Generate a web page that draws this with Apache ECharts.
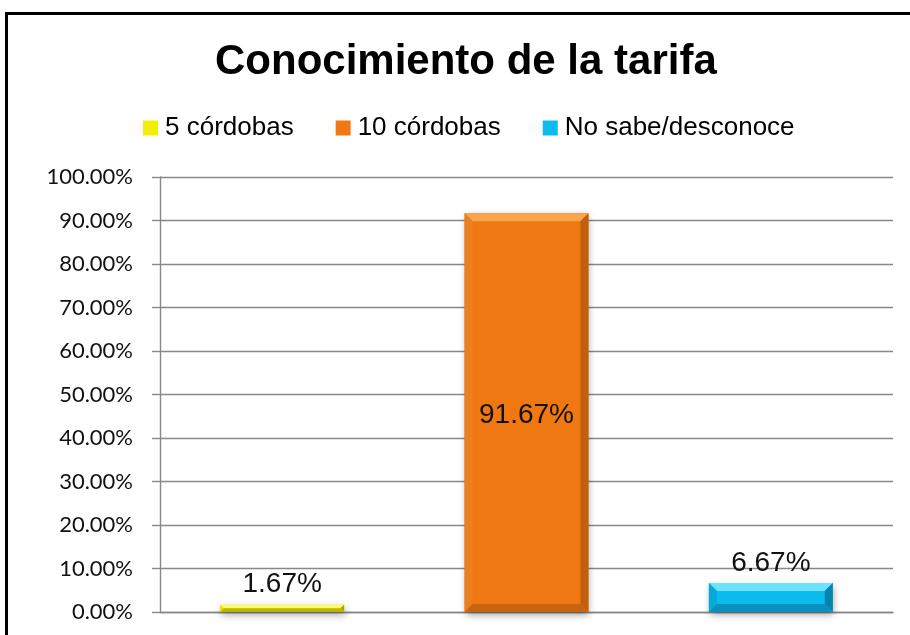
<!DOCTYPE html>
<html>
<head>
<meta charset="utf-8">
<title>Conocimiento de la tarifa</title>
<script src="https://cdn.jsdelivr.net/npm/echarts@6/dist/echarts.min.js"></script>
<style>
  html, body { margin: 0; padding: 0; background: #fff; }
  #chart { width: 910px; height: 635px; }
</style>
</head>
<body>
<div id="chart"></div>
<script>
// Chart data
const categories = ['5 córdobas', '10 córdobas', 'No sabe/desconoce'];
const values = [1.67, 91.67, 6.67];
const yTicks = { min: 0, max: 100, interval: 10 };

// Bevel palette per category: face, top edge, left edge, right edge, bottom edge
const palettes = [
  { face: '#f2f000', top: '#fbfb70', left: '#e4e200', right: '#a8a600', bottom: '#b8b600' },
  { face: '#f07812', top: '#f9a54c', left: '#ec7f22', right: '#c0600e', bottom: '#c8640f' },
  { face: '#0cbcee', top: '#6fe2ff', left: '#08a8da', right: '#0783b0', bottom: '#0990bf' }
];

const fmtPct = v => v.toFixed(2) + '%';

function renderBar(params, api) {
  const cat = api.value(0);
  const val = api.value(1);
  const base = api.coord([cat, 0]);
  const topPt = api.coord([cat, val]);
  const bw = api.size([1, 0])[0] * 0.507;
  const x = base[0] - bw / 2;
  const y = topPt[1];
  const h = base[1] - topPt[1];
  const b = Math.min(8, h / 2, bw / 2);
  const p = palettes[cat];
  const inside = h > 60;
  return {
    type: 'group',
    children: [
      {
        type: 'rect',
        shape: { x: x, y: y, width: bw, height: h },
        style: {
          fill: p.face,
          shadowBlur: 7,
          shadowColor: 'rgba(0,0,0,0.35)',
          shadowOffsetX: 1,
          shadowOffsetY: 3
        }
      },
      { type: 'polygon', shape: { points: [[x, y], [x + bw, y], [x + bw - b, y + b], [x + b, y + b]] }, style: { fill: p.top } },
      { type: 'polygon', shape: { points: [[x, y], [x + b, y + b], [x + b, y + h - b], [x, y + h]] }, style: { fill: p.left } },
      { type: 'polygon', shape: { points: [[x + bw, y], [x + bw, y + h], [x + bw - b, y + h - b], [x + bw - b, y + b]] }, style: { fill: p.right } },
      { type: 'polygon', shape: { points: [[x, y + h], [x + b, y + h - b], [x + bw - b, y + h - b], [x + bw, y + h]] }, style: { fill: p.bottom } },
      {
        type: 'text',
        x: base[0],
        y: inside ? y + h / 2 + 3 : y - 6,
        style: {
          text: fmtPct(val),
          fill: '#111',
          font: '28px "Liberation Sans", Arial, sans-serif',
          align: 'center',
          verticalAlign: inside ? 'middle' : 'bottom'
        }
      }
    ]
  };
}

const chart = echarts.init(document.getElementById('chart'), null, { renderer: 'canvas' });

const series = categories.map((name, i) => ({
  type: 'custom',
  name: name,
  renderItem: renderBar,
  itemStyle: { color: palettes[i].face },
  encode: { x: 0, y: 1 },
  data: [[i, values[i]]],
  z: 3
}));

chart.setOption({
  backgroundColor: '#fff',
  animation: false,
  title: {
    text: 'Conocimiento de la tarifa',
    left: 215,
    top: 41,
    padding: 0,
    textStyle: {
      fontFamily: '"Liberation Sans", Arial, sans-serif',
      fontSize: 42,
      fontWeight: 'bold',
      color: '#000'
    }
  },
  legend: {
    data: categories,
    left: 143,
    top: 115,
    padding: 0,
    itemWidth: 15,
    itemHeight: 15,
    itemGap: 42,
    icon: 'rect',
    textStyle: {
      fontFamily: '"Liberation Sans", Arial, sans-serif',
      fontSize: 26,
      color: '#000',
      padding: [0, 0, 0, 2]
    }
  },
  grid: { left: 160, top: 177, right: 17, bottom: 23 },
  xAxis: {
    type: 'category',
    data: categories,
    axisLine: { show: true, lineStyle: { color: '#888', width: 1.4 } },
    axisTick: { show: false },
    axisLabel: { show: false },
    splitLine: { show: false }
  },
  yAxis: {
    type: 'value',
    min: yTicks.min,
    max: yTicks.max,
    interval: yTicks.interval,
    axisLine: { show: true, lineStyle: { color: '#888', width: 1.4 } },
    axisTick: { show: true, length: 8, lineStyle: { color: '#888', width: 1.4 } },
    axisLabel: {
      margin: 27,
      formatter: v => fmtPct(v),
      fontFamily: 'Lato, "Open Sans", sans-serif',
      fontSize: 22,
      color: '#111'
    },
    splitLine: { show: true, lineStyle: { color: '#888', width: 1.4 } }
  },
  graphic: [
    {
      type: 'rect',
      shape: { x: 6.5, y: 13.5, width: 1000, height: 1000 },
      style: { fill: 'none', stroke: '#000', lineWidth: 3 },
      silent: true,
      z: 100
    }
  ],
  series: series
});
</script>
</body>
</html>
